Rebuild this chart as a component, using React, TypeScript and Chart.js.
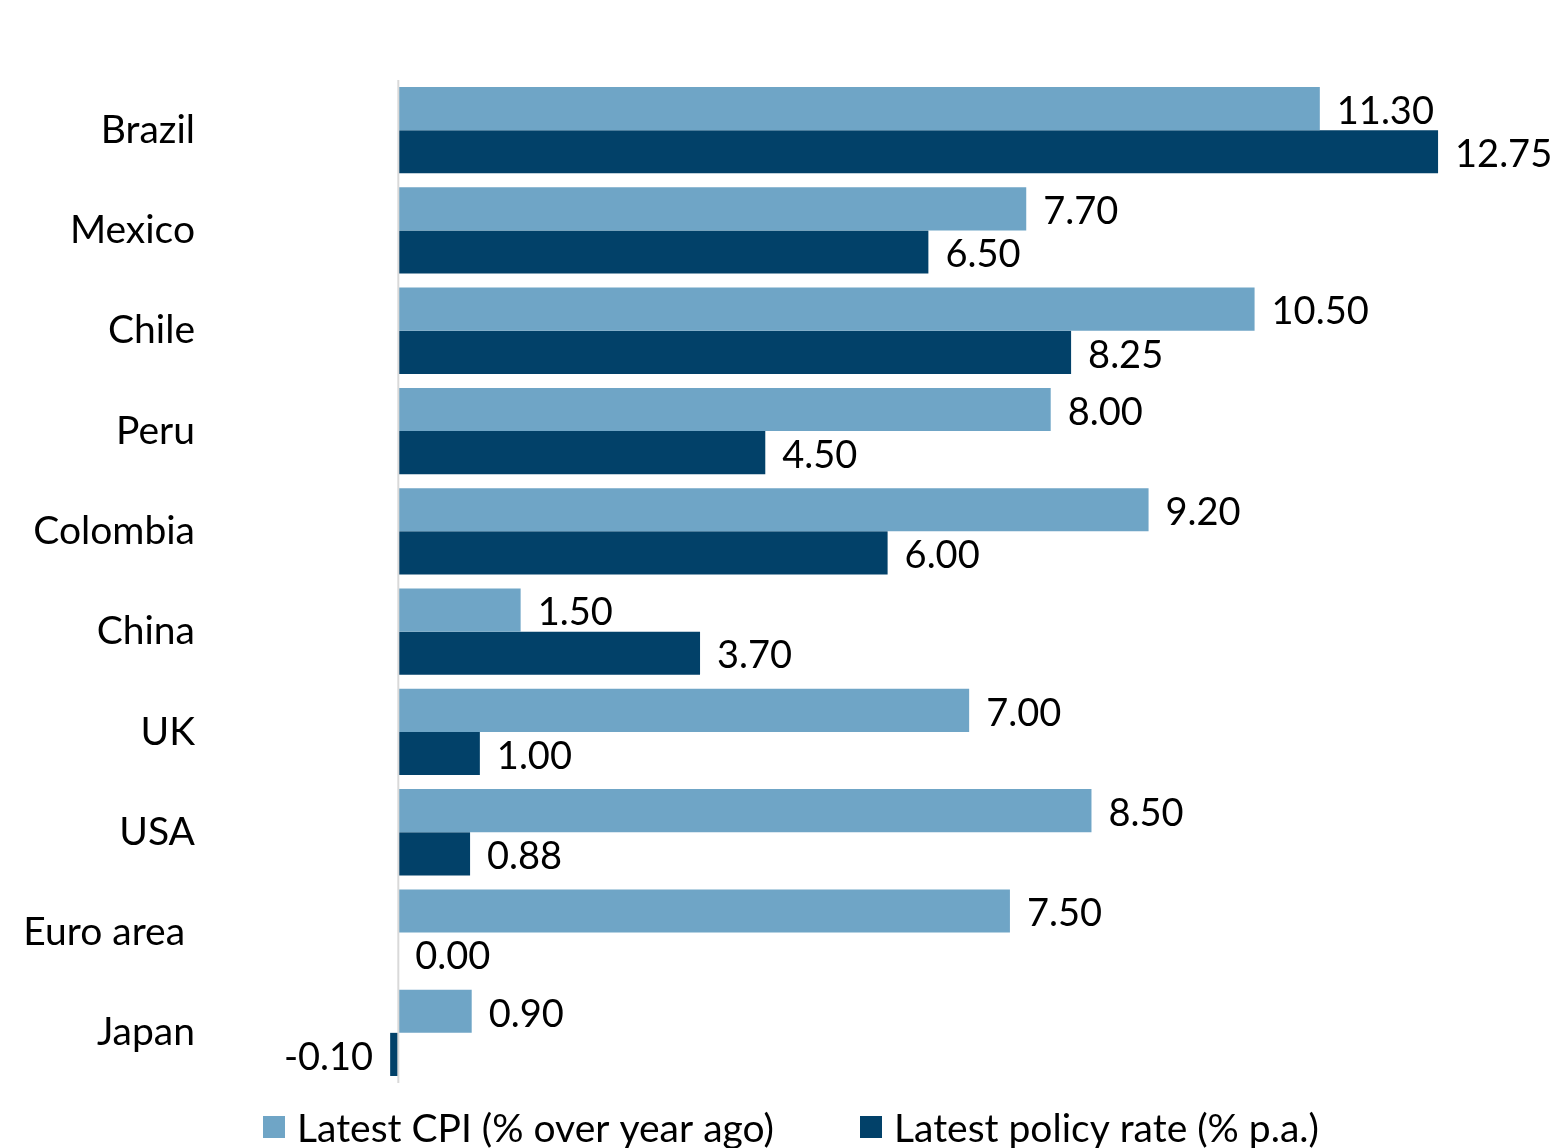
import React, { useEffect, useRef } from "react";
import { Chart, registerables } from "chart.js";

Chart.register(...registerables);

const categories = ["Brazil", "Mexico", "Chile", "Peru", "Colombia", "China", "UK", "USA", "Euro area ", "Japan"];
const cpiValues = [11.3, 7.7, 10.5, 8.0, 9.2, 1.5, 7.0, 8.5, 7.5, 0.9];
const policyValues = [12.75, 6.5, 8.25, 4.5, 6.0, 3.7, 1.0, 0.88, 0.0, -0.1];
const seriesLabels = ["Latest CPI (% over year ago)", "Latest policy rate (% p.a.)"];
const seriesColors = ["#6FA5C6", "#024169"];

const FONT = "Lato, 'Open Sans', sans-serif";
const FS = 38;
const FS_CAT = 39;

const overlayPlugin = {
  id: "overlay",
  afterDatasetsDraw(chart: any) {
    const ctx = chart.ctx;
    const xs = chart.scales.x;
    const area = chart.chartArea;
    // zero axis line
    const x0 = xs.getPixelForValue(0);
    ctx.save();
    ctx.strokeStyle = "#D9D9D9";
    ctx.lineWidth = 2;
    ctx.beginPath();
    ctx.moveTo(x0, area.top);
    ctx.lineTo(x0, area.bottom);
    ctx.stroke();
    // value labels
    ctx.font = `${FS}px ${FONT}`;
    ctx.fillStyle = "#000";
    ctx.textBaseline = "middle";
    chart.data.datasets.forEach((ds: any, di: number) => {
      const meta = chart.getDatasetMeta(di);
      meta.data.forEach((bar: any, i: number) => {
        const v = ds.data[i] as number;
        const txt = v.toFixed(2);
        if (v >= 0) {
          ctx.textAlign = "left";
          ctx.fillText(txt, bar.x + 17, bar.y + 3);
        } else {
          ctx.textAlign = "right";
          ctx.fillText(txt, bar.x - 17, bar.y + 3);
        }
      });
    });
    // legend
    ctx.font = `${FS_CAT}px ${FONT}`;
    ctx.textAlign = "left";
    const box = 22, gapBT = 12;
    const starts = [263, 860];
    const cy = 1127;
    for (let k = 0; k < 2; k++) {
      const x = starts[k];
      ctx.fillStyle = seriesColors[k];
      ctx.fillRect(x, cy - box / 2, box, box);
      ctx.fillStyle = "#000";
      ctx.fillText(seriesLabels[k], x + box + gapBT, cy + 2);
    }
    ctx.restore();
  },
};

export default function App() {
  const ref = useRef<HTMLCanvasElement | null>(null);
  useEffect(() => {
    if (!ref.current) return;
    const chart = new Chart(ref.current, {
      type: "bar",
      data: {
        labels: categories,
        datasets: [
          { label: seriesLabels[0], data: cpiValues, backgroundColor: seriesColors[0], categoryPercentage: 0.86, barPercentage: 1.0 },
          { label: seriesLabels[1], data: policyValues, backgroundColor: seriesColors[1], categoryPercentage: 0.86, barPercentage: 1.0 },
        ],
      },
      options: {
        indexAxis: "y",
        animation: false,
        responsive: false,
        maintainAspectRatio: false,
        layout: { padding: { top: 80, bottom: 65, right: 14, left: 0 } },
        plugins: { legend: { display: false }, tooltip: { enabled: false } },
        scales: {
          x: { display: false, min: -0.2, max: 14 },
          y: {
            grid: { display: false, drawTicks: false },
            border: { display: false },
            ticks: { padding: 187, color: "#000", font: { family: FONT, size: FS_CAT } },
            afterFit(scale: any) {
              scale.width = 382;
              scale.paddingTop = 0;
              scale.paddingBottom = 0;
            },
          },
        },
      },
      plugins: [overlayPlugin],
    });
    return () => chart.destroy();
  }, []);
  return (
    <div style={{ position: "fixed", left: 0, top: 0, width: 1554, height: 1148, background: "#fff" }}>
      <canvas ref={ref} width={1554} height={1148} style={{ width: 1554, height: 1148 }} />
    </div>
  );
}
